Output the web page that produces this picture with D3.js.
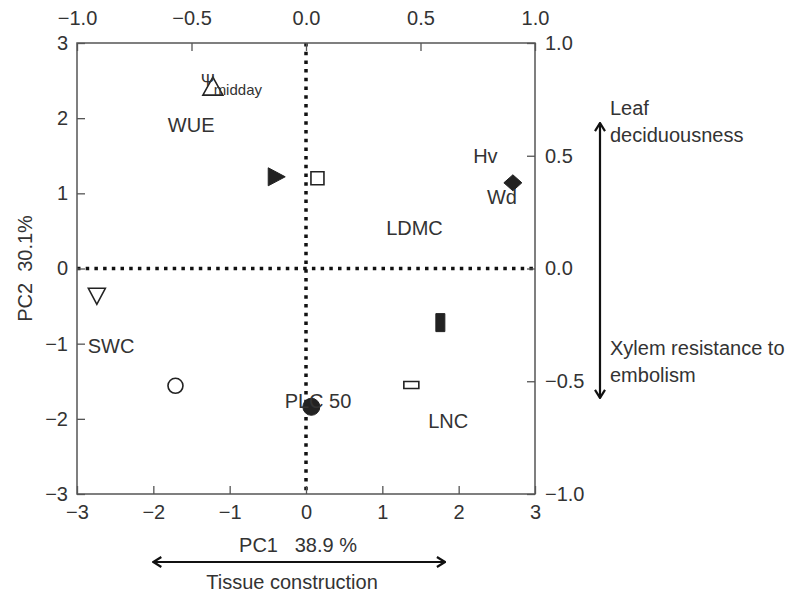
<!DOCTYPE html>
<html>
<head>
<meta charset="utf-8">
<script src="https://cdn.jsdelivr.net/npm/d3@7"></script>
<style>
  body { margin: 0; background: #fff; }
  text { font-family: "Liberation Sans", Arial, sans-serif; fill: #333; }
</style>
</head>
<body>
<script>
// PCA scores (bottom/left axes)
const pointPC1 = [-1.22, -0.39, 0.15, 2.71, -2.74, -1.71, 0.07, 1.76, 1.38];
const pointPC2 = [2.40, 1.22, 1.20, 1.14, -0.37, -1.56, -1.84, -0.72, -1.55];
const pointShapes = ["triUp", "triRight", "square", "diamond", "triDown", "circle", "dot", "barV", "barH"];

// trait labels (loadings), placed at start of text / baseline
const labelText = ["WUE", "Hv", "Wd", "LDMC", "SWC", "PLC 50", "LNC"];
const labelPC1 = [-1.81, 2.19, 2.37, 1.05, -2.86, -0.28, 1.60];
const labelPC2 = [1.82, 1.40, 0.86, 0.45, -1.12, -1.86, -2.12];

// axis ticks
const scoreTicks = [-3, -2, -1, 0, 1, 2, 3];
const loadingTicks = [-1.0, -0.5, 0.0, 0.5, 1.0];

let margin = {left: 77, right: 258, top: 43, bottom: 101};
let W = 793, H = 595;
let svg = d3.select("body").append("svg").attr("width", W).attr("height", H);

let x = d3.scaleLinear().domain([-3, 3]).range([margin.left, W - margin.right]);
let y = d3.scaleLinear().domain([-3, 3]).range([H - margin.bottom, margin.top]);
let xTop = d3.scaleLinear().domain([-1, 1]).range(x.range());
let yRight = d3.scaleLinear().domain([-1, 1]).range(y.range());

let ink = "#222";

// dotted zero lines
svg.append("line")
  .attr("x1", x(0)).attr("x2", x(0)).attr("y1", y(3)).attr("y2", y(-3))
  .attr("stroke", "#111").attr("stroke-width", 3.5).attr("stroke-dasharray", "3.5,5.2");
svg.append("line")
  .attr("x1", x(-3)).attr("x2", x(3)).attr("y1", y(0)).attr("y2", y(0))
  .attr("stroke", "#111").attr("stroke-width", 3.5).attr("stroke-dasharray", "3.5,5.2");

// axes with inward ticks
function styleAxis(g) {
  g.select(".domain").remove();
  g.selectAll(".tick line").attr("stroke", "#555").attr("stroke-width", 1.3);
  g.selectAll(".tick text").style("font-size", "20px").attr("fill", "#333")
    .style("font-family", "Liberation Sans, Arial, sans-serif");
}
svg.append("g").attr("transform", `translate(0,${y(-3)})`)
  .call(d3.axisBottom(x).tickValues(scoreTicks).tickFormat(d3.format("d")).tickSize(-8).tickPadding(11))
  .call(styleAxis);
svg.append("g").attr("transform", `translate(${x(-3)},0)`)
  .call(d3.axisLeft(y).tickValues(scoreTicks).tickFormat(d3.format("d")).tickSize(-8).tickPadding(9))
  .call(styleAxis);
svg.append("g").attr("transform", `translate(0,${y(3)})`)
  .call(d3.axisTop(xTop).tickValues(loadingTicks).tickFormat(d3.format(".1f")).tickSize(-8).tickPadding(18))
  .call(styleAxis);
svg.append("g").attr("transform", `translate(${x(3)},0)`)
  .call(d3.axisRight(yRight).tickValues(loadingTicks).tickFormat(d3.format(".1f")).tickSize(-8).tickPadding(10))
  .call(styleAxis);

// frame
svg.append("rect")
  .attr("x", x(-3)).attr("y", y(3))
  .attr("width", x(3) - x(-3)).attr("height", y(-3) - y(3))
  .attr("fill", "none").attr("stroke", "#555").attr("stroke-width", 1.5);

// marker shapes
function shapePath(s) {
  switch (s) {
    case "triUp": return "M0,-11 L10,7 L-10,7 Z";
    case "triDown": return "M-8.5,-8 L8.5,-8 L0,8 Z";
    case "triRight": return "M-8,-9 L9,0 L-8,9 Z";
    case "square": return "M-6.5,-6.5 H6.5 V6.5 H-6.5 Z";
    case "diamond": return "M0,-8 L9,0 L0,8 L-9,0 Z";
    case "circle": return d3.symbol(d3.symbolCircle, Math.PI * 7.5 * 7.5)();
    case "dot": return d3.symbol(d3.symbolCircle, Math.PI * 8.5 * 8.5)();
    case "barV": return "M-4.5,-9 H4.5 V9 H-4.5 Z";
    case "barH": return "M-7.5,-3.5 H7.5 V3.5 H-7.5 Z";
  }
}
let filled = {triRight: true, diamond: true, dot: true, barV: true};

svg.append("g").selectAll("path.pt")
  .data(pointShapes)
  .join("path")
  .attr("class", "pt")
  .attr("d", d => shapePath(d))
  .attr("transform", (d, i) => `translate(${x(pointPC1[i])},${y(pointPC2[i])})`)
  .attr("fill", d => filled[d] ? ink : "none")
  .attr("stroke", ink)
  .attr("stroke-width", d => filled[d] ? 1 : 1.6);

// trait labels
svg.append("g").selectAll("text.lab")
  .data(labelText)
  .join("text")
  .attr("class", "lab")
  .attr("x", (d, i) => x(labelPC1[i]))
  .attr("y", (d, i) => y(labelPC2[i]))
  .style("font-size", "20px")
  .text(d => d);

// Psi midday label
svg.append("text").attr("x", x(-1.38)).attr("y", y(2.43)).style("font-size", "17px").text("Ψ");
svg.append("text").attr("x", x(-1.21)).attr("y", y(2.31)).style("font-size", "15px").text("midday");

// axis titles
svg.append("text")
  .attr("transform", `translate(32,${y(0)}) rotate(-90)`)
  .attr("text-anchor", "middle").style("font-size", "20px")
  .attr("xml:space", "preserve")
  .text("PC2  30.1%");
svg.append("text")
  .attr("x", 298).attr("y", 552)
  .attr("text-anchor", "middle").style("font-size", "20px")
  .attr("xml:space", "preserve")
  .text("PC1   38.9 %");

// arrows
let defs = svg.append("defs");
defs.append("marker")
  .attr("id", "head").attr("viewBox", "0 0 12 12")
  .attr("refX", 11).attr("refY", 6)
  .attr("markerWidth", 12).attr("markerHeight", 12)
  .attr("markerUnits", "userSpaceOnUse")
  .attr("orient", "auto-start-reverse")
  .append("path").attr("d", "M3,1 L11,6 L3,11")
  .attr("fill", "none").attr("stroke", "#111").attr("stroke-width", 2.2);

// PC1 direction: tissue construction
const arrowPC1 = [-2.0, 1.82];
svg.append("line")
  .attr("x1", x(arrowPC1[0])).attr("x2", x(arrowPC1[1])).attr("y1", 562).attr("y2", 562)
  .attr("stroke", "#111").attr("stroke-width", 2.2)
  .attr("marker-start", "url(#head)").attr("marker-end", "url(#head)");
svg.append("text").attr("x", 292).attr("y", 589)
  .attr("text-anchor", "middle").style("font-size", "20px").text("Tissue construction");

// PC2 direction
const arrowPC2 = [0.645, -0.574];
svg.append("line")
  .attr("x1", 600).attr("x2", 600).attr("y1", yRight(arrowPC2[1])).attr("y2", yRight(arrowPC2[0]))
  .attr("stroke", "#111").attr("stroke-width", 2.2)
  .attr("marker-start", "url(#head)").attr("marker-end", "url(#head)");

let sideText = [["Leaf", 115], ["deciduousness", 142], ["Xylem resistance to", 355], ["embolism", 382]];
svg.append("g").selectAll("text")
  .data(sideText)
  .join("text")
  .attr("x", 610).attr("y", d => d[1])
  .style("font-size", "20px")
  .text(d => d[0]);
</script>
</body>
</html>
